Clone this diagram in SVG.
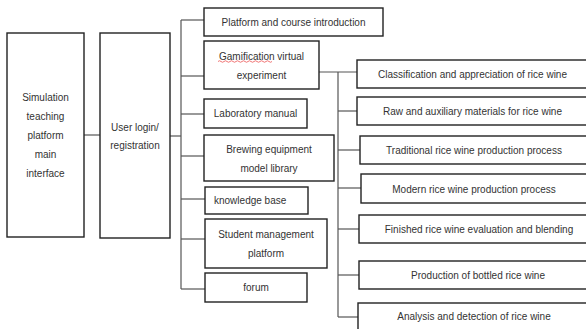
<svg xmlns="http://www.w3.org/2000/svg" width="586" height="329" viewBox="0 0 586 329">
<style>
.box{fill:#fff;stroke:#222;stroke-width:1.4}
.ln{stroke:#555;stroke-width:1.2;fill:none}
text{font-family:"Liberation Sans",Arial,sans-serif;font-size:10px;fill:#333;text-anchor:middle;dominant-baseline:central}
</style>
<rect width="586" height="329" fill="#fff"/>
<g id="connectors">
<line class="ln" x1="84" y1="135" x2="100" y2="135"/>
<line class="ln" x1="170" y1="136" x2="181" y2="136"/>
<line class="ln" x1="181" y1="20" x2="181" y2="289"/>
<line class="ln" x1="181" y1="20" x2="204" y2="20"/>
<line class="ln" x1="181" y1="76" x2="204" y2="76"/>
<line class="ln" x1="181" y1="114" x2="204" y2="114"/>
<line class="ln" x1="181" y1="156" x2="204" y2="156"/>
<line class="ln" x1="181" y1="199" x2="205" y2="199"/>
<line class="ln" x1="181" y1="239" x2="205" y2="239"/>
<line class="ln" x1="181" y1="289" x2="205" y2="289"/>
<line class="ln" x1="319" y1="72" x2="357" y2="72"/>
<line class="ln" x1="338" y1="72" x2="338" y2="317"/>
<line class="ln" x1="338" y1="111" x2="357" y2="111"/>
<line class="ln" x1="338" y1="150" x2="360" y2="150"/>
<line class="ln" x1="338" y1="188" x2="361" y2="188"/>
<line class="ln" x1="338" y1="229" x2="359" y2="229"/>
<line class="ln" x1="338" y1="275" x2="359" y2="275"/>
<line class="ln" x1="338" y1="317" x2="358" y2="317"/>
</g>
<g id="main"><rect class="box" x="7" y="33" width="77" height="204"/>
<text x="45.5" y="97">Simulation</text><text x="45.5" y="116">teaching</text><text x="45.5" y="135">platform</text><text x="45.5" y="154">main</text><text x="45.5" y="173">interface</text></g>
<g id="login"><rect class="box" x="100" y="33" width="70" height="205"/>
<text x="135" y="127">User login/</text><text x="135" y="145.5">registration</text></g>
<g id="intro"><rect class="box" x="204" y="8" width="179" height="28"/><text x="293.5" y="22.5">Platform and course introduction</text></g>
<g id="gamification"><rect class="box" x="204" y="41" width="115" height="48"/>
<text x="261.5" y="56.5">Gamification virtual</text><text x="261.5" y="75.5">experiment</text>
<path d="M218,61.5 q1.5,-1.5 3,0 t3,0 t3,0 t3,0 t3,0 t3,0 t3,0 t3,0 t3,0 t3,0 t3,0 t3,0 t3,0 t3,0 t3,0 t3,0 t3,0 t3,0" fill="none" stroke="#e66" stroke-width="0.9"/></g>
<g id="manual"><rect class="box" x="204" y="99" width="103" height="29"/><text x="255.5" y="113.5">Laboratory manual</text></g>
<g id="brewing"><rect class="box" x="204" y="135" width="130" height="46"/>
<text x="269" y="149">Brewing equipment</text><text x="269" y="168">model library</text></g>
<g id="knowledge"><rect class="box" x="205" y="187" width="103" height="27"/><text x="214" y="200.5" style="text-anchor:start">knowledge base</text></g>
<g id="student"><rect class="box" x="205" y="219" width="122" height="49"/>
<text x="266" y="234">Student management</text><text x="266" y="253">platform</text></g>
<g id="forum"><rect class="box" x="205" y="273" width="102" height="29"/><text x="256" y="287.5">forum</text></g>
<g id="classification"><rect class="box" x="357" y="60" width="235" height="28"/><text x="472.5" y="74.5">Classification and appreciation of rice wine</text></g>
<g id="raw"><rect class="box" x="357" y="97" width="235" height="28"/><text x="472.5" y="111.5">Raw and auxiliary materials for rice wine</text></g>
<g id="traditional"><rect class="box" x="360" y="136" width="232" height="28"/><text x="474" y="150">Traditional rice wine production process</text></g>
<g id="modern"><rect class="box" x="361" y="174" width="231" height="29"/><text x="474" y="189.5">Modern rice wine production process</text></g>
<g id="finished"><rect class="box" x="359" y="215" width="233" height="28"/><text x="479" y="229">Finished rice wine evaluation and blending</text></g>
<g id="bottled"><rect class="box" x="359" y="261" width="233" height="28"/><text x="478" y="275.5">Production of bottled rice wine</text></g>
<g id="analysis"><rect class="box" x="358" y="303" width="234" height="30"/><text x="474" y="316.5">Analysis and detection of rice wine</text></g>
</svg>
